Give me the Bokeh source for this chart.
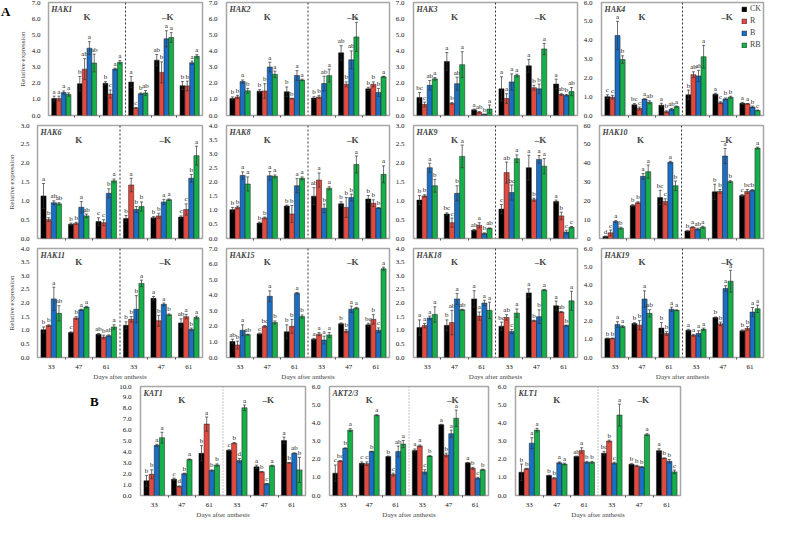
from bokeh.plotting import figure
from bokeh.layouts import column, row
from bokeh.models import (Range1d, FixedTicker, NumeralTickFormatter, Span, Label,
                          Legend, LegendItem, ColumnDataSource, Div)
from bokeh.core.properties import value
from bokeh.embed import file_html
from bokeh.resources import INLINE

DAYS = ["33", "47", "61", "33", "47", "61"]
SERIES = ["CK", "R", "B", "RB"]
COLORS = ["#000000", "#e2493f", "#1a6fc4", "#16b04a"]

# ---- data: rows = CK, R, B, RB ; columns = K 33/47/61, -K 33/47/61 ----
HAK1_mean = [[1.05, 1.97, 2.00, 2.07, 3.43, 1.85],
             [1.05, 2.87, 1.33, 0.47, 2.67, 1.83],
             [1.42, 4.17, 2.88, 1.35, 4.75, 3.27],
             [1.30, 3.25, 3.30, 1.40, 4.83, 3.67]]
HAK1_err = [[.15, .45, .10, .35, .35, .25],
            [.15, .65, .25, .03, .65, .30],
            [.10, .40, .05, .05, .50, .10],
            [.10, .55, .10, .15, .30, .10]]
HAK1_sig = [["a", "b", "b", "a", "ab", "b"],
            ["a", "ab", "c", "c", "b", "b"],
            ["a", "a", "a", "b", "a", "a"],
            ["a", "ab", "a", "ab", "a", "a"]]

HAK2_mean = [[1.05, 1.50, 1.47, 1.08, 3.88, 1.65],
             [1.15, 1.52, 1.05, 1.15, 1.93, 1.93],
             [2.10, 3.00, 2.48, 1.98, 3.45, 1.43],
             [1.53, 2.55, 2.20, 2.47, 4.87, 2.40]]
HAK2_err = [[.10, .10, .30, .08, .45, .10],
            [.10, .45, .02, .10, .15, .15],
            [.10, .30, .30, .45, .55, .25],
            [.15, .20, .05, .40, .90, .03]]
HAK2_sig = [["b", "b", "b", "b", "ab", "b"],
            ["b", "b", "b", "b", "b", "b"],
            ["a", "a", "a", "ab", "ab", "b"],
            ["b", "a", "a", "a", "a", "a"]]

HAK3_mean = [[1.12, 3.35, 0.35, 1.65, 3.08, 1.95],
             [0.68, 0.75, 0.20, 1.05, 1.72, 1.30],
             [1.87, 1.97, 0.07, 2.08, 1.65, 1.25],
             [2.27, 3.15, 0.40, 2.48, 4.12, 1.48]]
HAK3_err = [[.30, .55, .05, .75, .40, .30],
            [.15, .05, .05, .30, .15, .05],
            [.30, .40, .02, .50, .30, .05],
            [.08, .80, .25, .08, .35, .25]]
HAK3_sig = [["bc", "a", "a", "a", "a", "a"],
            ["c", "b", "ab", "a", "b", "ab"],
            ["ab", "ab", "b", "a", "b", "b"],
            ["a", "a", "a", "a", "a", "ab"]]

HAK4_mean = [[1.00, 0.57, 0.55, 1.10, 1.13, 0.65],
             [0.97, 0.37, 0.20, 2.17, 0.68, 0.62],
             [4.25, 0.87, 0.33, 2.10, 0.88, 0.45],
             [2.97, 0.70, 0.47, 3.12, 0.97, 0.27]]
HAK4_err = [[.10, .07, .10, .25, .05, .05],
            [.10, .08, .05, .15, .05, .02],
            [.75, .02, .05, .30, .05, .05],
            [.20, .08, .03, .60, .05, .02]]
HAK4_sig = [["c", "bc", "a", "b", "a", "a"],
            ["c", "c", "b", "ab", "c", "a"],
            ["a", "a", "ab", "ab", "b", "b"],
            ["b", "ab", "a", "a", "b", "c"]]

HAK6_mean = [[1.13, 0.38, 0.45, 0.53, 0.55, 0.57],
             [0.50, 0.40, 0.42, 1.42, 0.60, 0.77],
             [0.95, 0.83, 1.20, 0.77, 0.97, 1.60],
             [0.92, 0.60, 1.53, 0.85, 1.03, 2.20]]
HAK6_err = [[.33, .03, .10, .08, .03, .03],
            [.05, .03, .08, .18, .07, .15],
            [.05, .15, .12, .08, .07, .10],
            [.03, .05, .05, .12, .02, .25]]
HAK6_sig = [["a", "b", "c", "b", "b", "c"],
            ["b", "b", "c", "a", "b", "c"],
            ["ab", "a", "b", "b", "a", "b"],
            ["ab", "ab", "a", "b", "a", "a"]]

HAK8_mean = [[1.02, 0.55, 1.15, 1.50, 1.23, 1.40],
             [1.10, 0.73, 0.87, 2.07, 1.10, 1.25],
             [2.23, 2.22, 1.87, 1.07, 1.45, 1.08],
             [1.93, 2.20, 2.13, 1.78, 2.62, 2.27]]
HAK8_err = [[.08, .03, .03, .30, .07, .12],
            [.05, .03, .30, .25, .35, .12],
            [.13, .15, .25, .15, .12, .02],
            [.25, .05, .05, .05, .30, .30]]
HAK8_sig = [["b", "b", "b", "ab", "b", "b"],
            ["b", "b", "b", "a", "b", "b"],
            ["a", "a", "a", "b", "b", "b"],
            ["a", "a", "a", "a", "a", "a"]]

HAK9_mean = [[1.02, 0.65, 0.22, 0.78, 1.88, 0.98],
             [1.13, 0.42, 0.35, 1.75, 1.03, 0.60],
             [1.88, 1.20, 0.13, 1.22, 2.10, 0.17],
             [1.40, 2.18, 0.27, 2.12, 1.92, 0.30]]
HAK9_err = [[.12, .03, .02, .12, .33, .04],
            [.03, .12, .07, .28, .04, .10],
            [.12, .20, .02, .20, .10, .05],
            [.17, .30, .01, .10, .20, .02]]
HAK9_sig = [["b", "bc", "ab", "c", "a", "a"],
            ["b", "c", "a", "ab", "b", "b"],
            ["a", "b", "b", "bc", "a", "c"],
            ["b", "a", "ab", "a", "a", "c"]]

HAK10_mean = [[1.0, 17.5, 21.8, 4.0, 24.8, 22.8],
              [3.0, 19.0, 19.6, 6.0, 25.0, 25.0],
              [9.0, 33.0, 40.5, 5.0, 43.8, 25.6],
              [5.5, 35.5, 28.0, 6.0, 30.2, 48.0]]
HAK10_err = [[0.3, 0.5, 3.8, 0.3, 4.0, 0.5],
             [1.5, 0.5, 1.5, 0.2, 1.0, 1.0],
             [0.5, 1.5, 0.5, 0.5, 4.0, 0.3],
             [0.5, 3.5, 2.5, 0.5, 0.5, 0.5]]
HAK10_sig = [["d", "b", "bc", "b", "b", "c"],
             ["c", "b", "c", "a", "b", "bc"],
             ["a", "a", "a", "ab", "a", "b"],
             ["b", "a", "b", "a", "b", "a"]]

HAK11_mean = [[1.02, 0.92, 0.85, 1.18, 2.17, 1.27],
              [1.17, 1.45, 0.75, 1.40, 1.35, 1.50],
              [2.15, 1.75, 0.80, 1.77, 1.95, 1.03],
              [1.62, 1.85, 1.12, 2.72, 1.57, 1.47]]
HAK11_err = [[.10, .02, .03, .13, .07, .15],
             [.03, .05, .07, .10, .20, .08],
             [.43, .02, .03, .50, .05, .05],
             [.28, .03, .08, .12, .03, .05]]
HAK11_sig = [["b", "c", "ab", "b", "a", "ab"],
             ["b", "b", "b", "b", "b", "a"],
             ["a", "a", "ab", "b", "a", "b"],
             ["ab", "a", "a", "a", "b", "a"]]

HAK15_mean = [[1.03, 1.52, 1.65, 1.18, 2.17, 2.10],
              [0.80, 2.00, 2.00, 1.50, 1.70, 2.45],
              [1.75, 3.93, 4.13, 1.12, 3.10, 1.75],
              [1.47, 2.25, 2.63, 1.45, 3.17, 5.70]]
HAK15_err = [[.15, .05, .45, .05, .05, .10],
             [.25, .05, .45, .10, .10, .30],
             [.35, .35, .05, .25, .20, .15],
             [.03, .10, .10, .15, .05, .10]]
HAK15_sig = [["ab", "c", "b", "a", "b", "bc"],
             ["b", "bc", "b", "a", "b", "b"],
             ["a", "a", "a", "a", "a", "c"],
             ["ab", "b", "b", "a", "a", "a"]]

HAK18_mean = [[1.10, 1.18, 2.15, 1.15, 2.37, 1.90],
              [1.17, 1.28, 1.52, 1.47, 1.35, 1.67],
              [1.45, 2.15, 2.00, 0.95, 1.50, 1.17],
              [1.58, 1.75, 1.73, 1.63, 2.48, 2.08]]
HAK18_err = [[.28, .20, .30, .15, .15, .17],
             [.08, .45, .15, .10, .02, .02],
             [.07, .20, .10, .08, .25, .02],
             [.28, .02, .30, .15, .02, .35]]
HAK18_sig = [["a", "b", "a", "bc", "a", "a"],
             ["a", "ab", "a", "ab", "b", "ab"],
             ["a", "a", "a", "c", "b", "b"],
             ["a", "ab", "a", "a", "a", "a"]]

HAK19_mean = [[1.05, 1.87, 1.62, 1.50, 2.20, 1.47],
              [1.05, 1.78, 1.32, 1.22, 1.85, 1.60],
              [1.82, 3.22, 2.65, 1.32, 3.80, 2.50],
              [1.70, 2.43, 2.60, 1.55, 4.20, 2.68]]
HAK19_err = [[.02, .05, .30, .05, .03, .05],
             [.02, .25, .10, .05, .10, .10],
             [.15, .45, .12, .15, .15, .25],
             [.05, .20, .02, .07, .60, .20]]
HAK19_sig = [["b", "b", "b", "a", "b", "b"],
             ["b", "b", "b", "a", "b", "b"],
             ["a", "a", "a", "a", "a", "a"],
             ["a", "ab", "a", "a", "a", "a"]]

KAT1_mean = [[1.35, 1.50, 3.87, 4.15, 2.63, 5.05],
             [1.95, 0.83, 6.55, 4.80, 2.17, 3.00],
             [4.60, 2.00, 2.30, 3.20, 1.07, 3.88],
             [5.30, 3.30, 2.80, 8.05, 2.73, 2.35]]
KAT1_err = [[.50, .10, .70, .05, .15, .30],
            [.40, .05, .65, .05, .02, .02],
            [.10, .05, .05, .20, .03, .02],
            [.50, .05, .10, .25, .05, 1.15]]
KAT1_sig = [["b", "c", "b", "c", "a", "a"],
            ["b", "d", "a", "b", "b", "b"],
            ["a", "b", "b", "d", "c", "ab"],
            ["a", "a", "b", "a", "a", "b"]]

AKT23_mean = [[1.23, 1.77, 2.15, 2.48, 3.90, 1.80],
              [1.90, 1.75, 1.15, 2.73, 2.23, 1.50],
              [2.60, 2.42, 2.42, 1.30, 3.40, 0.95],
              [3.60, 4.42, 2.83, 2.17, 4.25, 1.42]]
AKT23_err = [[.45, .08, .02, .08, .02, .02],
             [.02, .10, .08, .05, .10, .05],
             [.02, .02, .30, .12, .20, .05],
             [.08, .03, .20, .02, .45, .03]]
AKT23_sig = [["c", "c", "b", "a", "a", "a"],
             ["bc", "c", "c", "a", "b", "b"],
             ["b", "b", "ab", "c", "a", "c"],
             ["a", "a", "a", "b", "a", "b"]]

KLT1_mean = [[1.28, 1.10, 2.15, 2.33, 1.72, 2.47],
             [1.47, 0.95, 2.48, 3.00, 1.63, 2.05],
             [2.88, 1.80, 1.83, 1.78, 1.57, 1.88],
             [3.60, 1.73, 1.83, 4.43, 3.35, 1.30]]
KLT1_err = [[.45, .02, .02, .10, .03, .10],
            [.03, .03, .15, .05, .03, .02],
            [.30, .05, .05, .05, .02, .10],
            [.10, .05, .05, .60, .05, .10]]
KLT1_sig = [["b", "b", "ab", "bc", "b", "a"],
            ["b", "b", "a", "b", "b", "b"],
            ["a", "a", "b", "c", "b", "b"],
            ["a", "a", "b", "a", "a", "c"]]

FONT = "Liberation Serif"
BW = 0.1875
CAP = 0.055


def panel(name, mean, err, sig, ymax, step, fmt, w, h, bl, br, bt, bb,
          xlabels=False, ylabel=None, legend=False, dash_color="#333333",
          dash="2 2"):
    p = figure(width=w, height=h, x_range=Range1d(0, 6), y_range=Range1d(0, ymax),
               output_backend="svg", toolbar_location=None,
               min_border_left=bl, min_border_right=br,
               min_border_top=bt, min_border_bottom=bb)
    p.xgrid.visible = False
    p.ygrid.visible = False
    p.outline_line_color = "#a6a6a6"
    p.outline_line_width = 1.5
    p.background_fill_color = "white"
    p.border_fill_color = "white"

    p.add_layout(Span(location=3, dimension="height", line_color=dash_color,
                      line_dash=dash, line_width=1))

    rends = []
    for i, s in enumerate(SERIES):
        xs = [g + 0.5 + (i - 1.5) * BW for g in range(6)]
        m = mean[i]
        e = err[i]
        src = ColumnDataSource(dict(
            x=xs, top=m,
            lo=[a - b for a, b in zip(m, e)],
            hi=[a + b for a, b in zip(m, e)],
            xl=[x - CAP for x in xs], xr=[x + CAP for x in xs],
            sig=sig[i]))
        r = p.vbar(x="x", top="top", bottom=0, width=BW, source=src,
                   fill_color=COLORS[i], line_color="#1a1a1a", line_width=0.5)
        rends.append(r)
        p.segment(x0="x", y0="lo", x1="x", y1="hi", source=src,
                  line_color="#333333", line_width=0.7)
        p.segment(x0="xl", y0="hi", x1="xr", y1="hi", source=src,
                  line_color="#333333", line_width=0.7)
        p.segment(x0="xl", y0="lo", x1="xr", y1="lo", source=src,
                  line_color="#333333", line_width=0.7)
        p.text(x="x", y="hi", text="sig", source=src, text_align="center",
               text_baseline="bottom", text_font=value(FONT),
               text_font_size=value("7px"), text_color="#1a1a1a", y_offset=-0.5)

    # x axis
    centers = [g + 0.5 for g in range(6)]
    p.xaxis.ticker = FixedTicker(ticks=centers, minor_ticks=[1, 2, 4, 5])
    p.xaxis.axis_line_color = None
    p.xaxis.major_tick_line_color = None
    p.xaxis.minor_tick_line_color = "#555555"
    p.xaxis.minor_tick_in = 0
    p.xaxis.minor_tick_out = 2
    p.xaxis.major_label_text_font = FONT
    p.xaxis.major_label_standoff = 1
    if xlabels:
        p.xaxis.major_label_overrides = {c: d for c, d in zip(centers, DAYS)}
        p.xaxis.major_label_text_font_size = "7px"
        p.xaxis.major_label_text_color = "#111111"
        p.xaxis.axis_label = "Days after anthesis"
        p.xaxis.axis_label_text_font = FONT
        p.xaxis.axis_label_text_font_size = "7px"
        p.xaxis.axis_label_text_font_style = "normal"
        p.xaxis.axis_label_standoff = 1
    else:
        p.xaxis.major_label_overrides = {c: "" for c in centers}
        p.xaxis.major_label_text_font_size = "0px"

    # y axis
    n = int(round(ymax / step))
    p.yaxis.ticker = FixedTicker(ticks=[k * step for k in range(n + 1)])
    p.yaxis.formatter = NumeralTickFormatter(format=fmt)
    p.yaxis.axis_line_color = None
    p.yaxis.major_tick_line_color = None
    p.yaxis.minor_tick_line_color = None
    p.yaxis.major_label_text_font = FONT
    p.yaxis.major_label_text_font_size = "7px"
    p.yaxis.major_label_text_color = "#111111"
    p.yaxis.major_label_standoff = 3
    if ylabel:
        p.yaxis.major_label_standoff = 2
        p.yaxis.axis_label = ylabel
        p.yaxis.axis_label_text_font = FONT
        p.yaxis.axis_label_text_font_size = "7px"
        p.yaxis.axis_label_text_font_style = "normal"
        p.yaxis.axis_label_standoff = 2

    # texts
    p.add_layout(Label(x=0.11, y=ymax * 0.935, text=name, text_font=FONT,
                       text_font_style="bold italic", text_font_size="8px",
                       text_baseline="middle"))
    p.add_layout(Label(x=1.5, y=ymax * 0.875, text="K", text_font=FONT,
                       text_font_style="bold", text_font_size="9px",
                       text_align="center", text_baseline="middle"))
    p.add_layout(Label(x=4.65, y=ymax * 0.875, text="\u2013K", text_font=FONT,
                       text_font_style="bold", text_font_size="9px",
                       text_align="center", text_baseline="middle"))

    if legend:
        lg = Legend(items=[LegendItem(label=s, renderers=[r]) for s, r in zip(SERIES, rends)],
                    location="top_right")
        lg.label_text_font = FONT
        lg.label_text_font_size = "8px"
        lg.glyph_width = 6
        lg.glyph_height = 6
        lg.label_height = 8
        lg.label_width = 10
        lg.spacing = 3
        lg.padding = 1
        lg.margin = 2
        lg.label_standoff = 3
        lg.border_line_color = None
        lg.background_fill_alpha = 0
        p.add_layout(lg)
    return p


def tag(letter, left, top):
    return Div(text=letter, width=14, height=18, margin=(top, 0, 0, left),
               styles={"font-family": FONT, "font-weight": "bold",
                       "font-size": "13px", "line-height": "14px", "color": "#000"})


# layout geometry (canvas widths / borders)
A_COLS = [(205, 37, 3), (187, 19, 3), (188, 20, 3), (187, 18, 4)]
ROW_H = [(121, 2, 4), (123, 4, 4), (139, 4, 20)]

rowdefs = [
    [("HAK1", HAK1_mean, HAK1_err, HAK1_sig, 7.0, 1.0, "0.0"),
     ("HAK2", HAK2_mean, HAK2_err, HAK2_sig, 7.0, 1.0, "0.0"),
     ("HAK3", HAK3_mean, HAK3_err, HAK3_sig, 7.0, 1.0, "0.0"),
     ("HAK4", HAK4_mean, HAK4_err, HAK4_sig, 6.0, 1.0, "0.0")],
    [("HAK6", HAK6_mean, HAK6_err, HAK6_sig, 3.0, 0.5, "0.0"),
     ("HAK8", HAK8_mean, HAK8_err, HAK8_sig, 4.0, 0.5, "0.0"),
     ("HAK9", HAK9_mean, HAK9_err, HAK9_sig, 3.0, 0.5, "0.0"),
     ("HAK10", HAK10_mean, HAK10_err, HAK10_sig, 60.0, 10.0, "0")],
    [("HAK11", HAK11_mean, HAK11_err, HAK11_sig, 4.0, 0.5, "0.0"),
     ("HAK15", HAK15_mean, HAK15_err, HAK15_sig, 7.0, 1.0, "0.0"),
     ("HAK18", HAK18_mean, HAK18_err, HAK18_sig, 4.0, 0.5, "0.0"),
     ("HAK19", HAK19_mean, HAK19_err, HAK19_sig, 6.0, 1.0, "0.0")],
]

rows = []
for ri, defs in enumerate(rowdefs):
    h, bt, bb = ROW_H[ri]
    figs = []
    for ci, (nm, m, e, s, ymax, step, fmt) in enumerate(defs):
        w, bl, br = A_COLS[ci]
        if ri == 0 and ci == 0:
            figs.append(tag("A", 1, 5))
            w, bl = w - 15, bl - 15
        figs.append(panel(nm, m, e, s, ymax, step, fmt, w, h, bl, br, bt, bb,
                          xlabels=(ri == 2),
                          ylabel="Relative expression" if ci == 0 else None,
                          legend=(ri == 0 and ci == 3)))
    rows.append(row(*figs))

B_COLS = [(204, 36, 3), (183, 15, 3), (192, 24, 3)]
bdefs = [("KAT1", KAT1_mean, KAT1_err, KAT1_sig, 10.0, 1.0, "0.0"),
         ("AKT2/3", AKT23_mean, AKT23_err, AKT23_sig, 6.0, 1.0, "0.0"),
         ("KLT1", KLT1_mean, KLT1_err, KLT1_sig, 6.0, 1.0, "0.0")]
bfigs = [tag("B", 90, 12)]
for ci, (nm, m, e, s, ymax, step, fmt) in enumerate(bdefs):
    w, bl, br = B_COLS[ci]
    bfigs.append(panel(nm, m, e, s, ymax, step, fmt, w, 138, bl, br, 3, 21,
                       xlabels=True, dash_color="#8c8c8c", dash="1 2"))
rows.append(row(*bfigs))

layout = column(*rows)
open("out.html", "w").write(file_html(layout, INLINE))
